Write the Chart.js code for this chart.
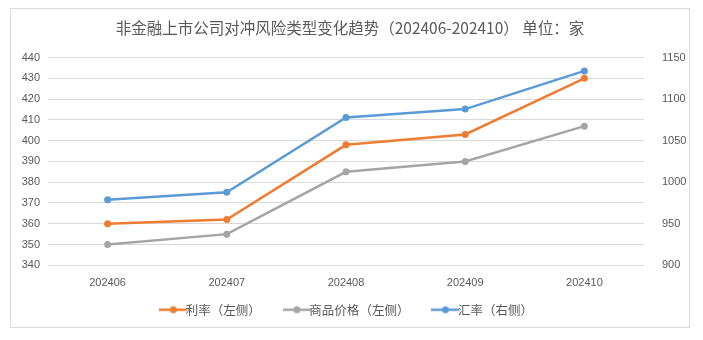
<!DOCTYPE html>
<html>
<head>
<meta charset="utf-8">
<script src="https://cdn.jsdelivr.net/npm/chart.js@4.4.1/dist/chart.umd.min.js"></script>
<style>
  html, body { margin: 0; padding: 0; background: #fff; }
  #box { position: absolute; left: 10px; top: 8px; width: 680px; height: 320px; border: 1px solid #d9d9d9; box-sizing: border-box; }
  canvas { display: block; }
</style>
</head>
<body>
<div id="box"><canvas id="chart"></canvas></div>
<script>
const months = ['202406', '202407', '202408', '202409', '202410'];
const rateValues = [360, 362, 398, 403, 430];
const commodityValues = [350, 355, 385, 390, 407];
const fxValues = [979, 988, 1078, 1088, 1134];
const seriesNames = ['利率（左侧）', '商品价格（左侧）', '汇率（右侧）'];
const seriesColors = ['#ED7D31', '#A5A5A5', '#5B9BD5'];

const cjk = '"Noto Sans CJK SC", "Noto Sans", sans-serif';
const txt = '#595959';

// legend swatch: short line with a dot in the middle
function swatch(color) {
  const c = document.createElement('canvas');
  c.width = 28; c.height = 10;
  const g = c.getContext('2d');
  g.strokeStyle = color; g.lineWidth = 2.5;
  g.beginPath(); g.moveTo(0, 5); g.lineTo(28, 5); g.stroke();
  g.fillStyle = color;
  g.beginPath(); g.arc(14, 5, 3.5, 0, Math.PI * 2); g.fill();
  return c;
}

function ds(label, data, color, axis) {
  return {
    label, data, yAxisID: axis,
    borderColor: color, backgroundColor: color,
    borderWidth: 2.5, pointRadius: 3.5, pointHoverRadius: 3.5, pointBorderWidth: 0,
    pointBackgroundColor: color, pointBorderColor: color,
    tension: 0, pointStyle: 'circle',
  };
}

new Chart(document.getElementById('chart'), {
  type: 'line',
  data: {
    labels: months,
    datasets: [
      ds(seriesNames[0], rateValues, seriesColors[0], 'y'),
      ds(seriesNames[1], commodityValues, seriesColors[1], 'y'),
      ds(seriesNames[2], fxValues, seriesColors[2], 'y1'),
    ],
  },
  options: {
    responsive: true, maintainAspectRatio: false, animation: false,
    layout: { padding: { left: 0, right: 0, top: 6, bottom: 1 } },
    plugins: {
      title: {
        display: true,
        text: '非金融上市公司对冲风险类型变化趋势（202406-202410） 单位：家',
        color: txt, font: { family: cjk, size: 15.5, weight: 'normal' },
        padding: { top: 4, bottom: 20 },
      },
      legend: {
        position: 'bottom',
        labels: {
          color: txt, font: { family: cjk, size: 12.5 },
          usePointStyle: true, boxWidth: 28, boxHeight: 10, padding: 11,
          // extra gap after every item except the last
          generateLabels: (chart) => chart.data.datasets.map((d, i, all) => ({
            text: i < all.length - 1 ? d.label + '\u3000\u3000' : d.label,
            fontColor: txt, pointStyle: swatch(seriesColors[i]),
            datasetIndex: i, hidden: false, lineWidth: 0, strokeStyle: 'transparent', fillStyle: 'transparent',
          })),
        },
      },
      tooltip: { enabled: false },
    },
    scales: {
      x: {
        offset: true,
        grid: { display: false }, border: { display: false },
        ticks: { color: txt, font: { family: 'Liberation Sans, Arial', size: 11 }, padding: 3 },
      },
      y: {
        position: 'left', min: 340, max: 440,
        ticks: { stepSize: 10, color: txt, font: { family: 'Liberation Sans, Arial', size: 11 }, padding: 8 },
        grid: { color: '#d9d9d9', drawTicks: false }, border: { display: false },
        afterFit: (s) => { s.width = 37; },
      },
      y1: {
        position: 'right', min: 900, max: 1150,
        ticks: { stepSize: 50, color: txt, font: { family: 'Liberation Sans, Arial', size: 11 }, padding: 10, callback: (v) => String(v) },
        grid: { display: false }, border: { display: false },
        afterFit: (s) => { s.width = 45; },
      },
    },
  },
});
</script>
</body>
</html>
